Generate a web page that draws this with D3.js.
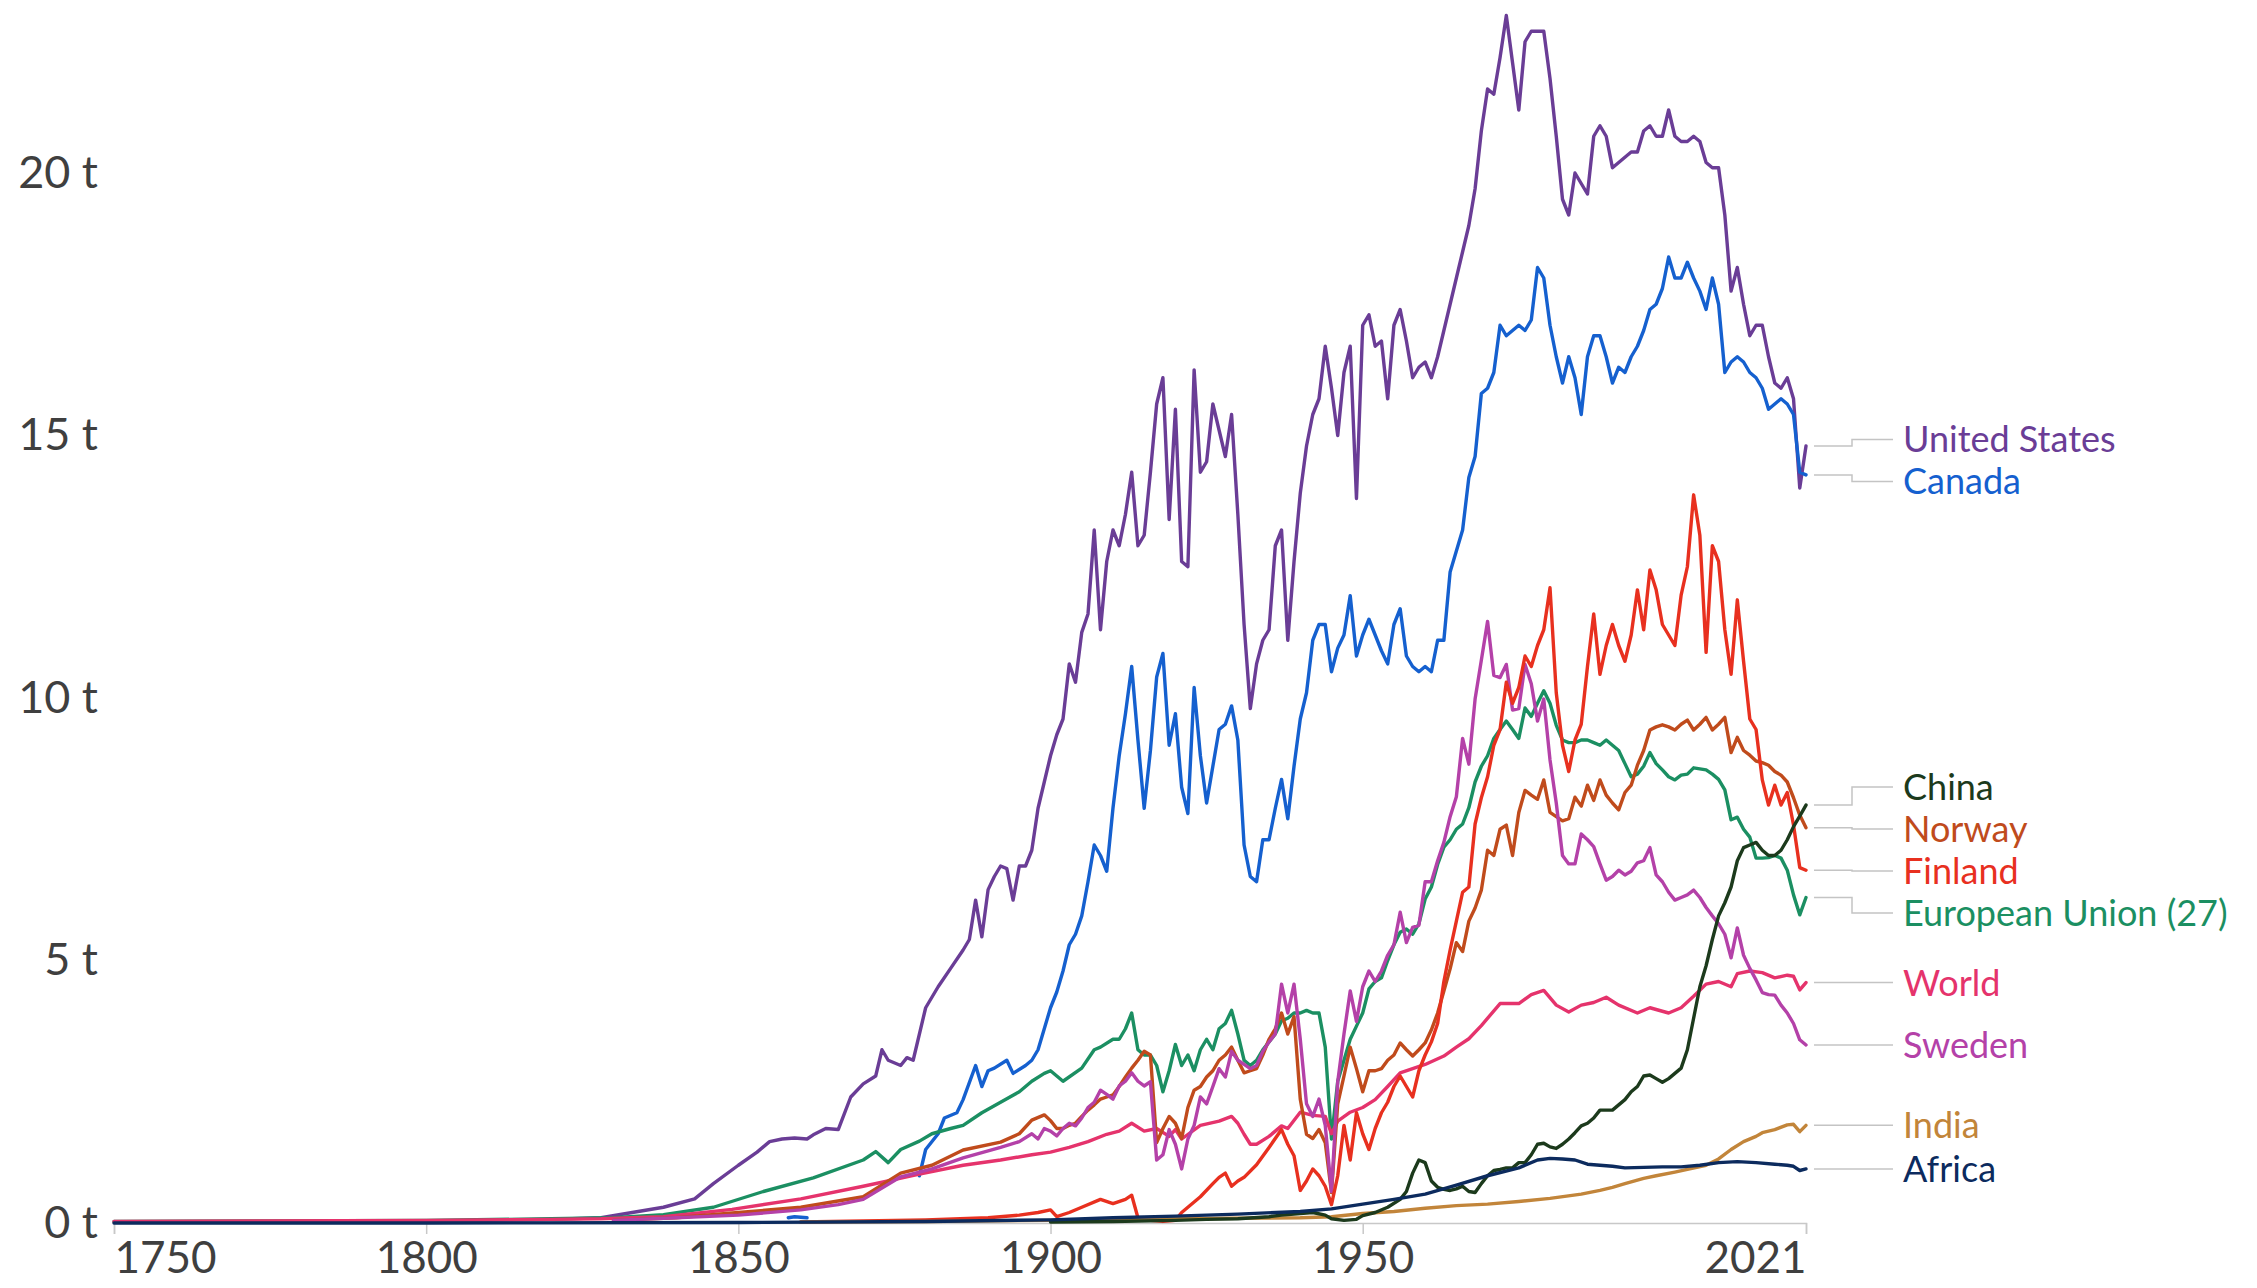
<!DOCTYPE html>
<html>
<head>
<meta charset="utf-8">
<script src="https://cdn.jsdelivr.net/npm/d3@7"></script>
<style>
  html, body { margin: 0; padding: 0; background: #fff; }
  svg { display: block; font-family: Lato, "Noto Sans", sans-serif; }
</style>
</head>
<body>
<script>
// CO2 per capita (tonnes)
const unitedStates = [[1800,0.04],[1810,0.05],[1820,0.07],[1828,0.1],[1833,0.2],[1838,0.3],[1843,0.46],[1846,0.75],[1850,1.1],[1853,1.35],[1855,1.55],[1857,1.6],[1859,1.62],[1861,1.6],[1862,1.68],[1864,1.8],[1866,1.78],[1868,2.4],[1870,2.65],[1872,2.8],[1873,3.3],[1874,3.1],[1876,3.0],[1877,3.15],[1878,3.1],[1880,4.1],[1882,4.5],[1884,4.85],[1886,5.2],[1887,5.4],[1888,6.15],[1889,5.45],[1890,6.35],[1891,6.6],[1892,6.8],[1893,6.75],[1894,6.15],[1895,6.8],[1896,6.8],[1897,7.1],[1898,7.9],[1899,8.4],[1900,8.9],[1901,9.3],[1902,9.6],[1903,10.65],[1904,10.3],[1905,11.25],[1906,11.6],[1907,13.2],[1908,11.3],[1909,12.6],[1910,13.2],[1911,12.9],[1912,13.5],[1913,14.3],[1914,12.9],[1915,13.1],[1916,14.3],[1917,15.6],[1918,16.1],[1919,13.4],[1920,15.5],[1921,12.6],[1922,12.5],[1923,16.25],[1924,14.3],[1925,14.5],[1926,15.6],[1927,15.1],[1928,14.6],[1929,15.4],[1930,13.5],[1931,11.4],[1932,9.8],[1933,10.65],[1934,11.1],[1935,11.3],[1936,12.9],[1937,13.2],[1938,11.1],[1939,12.6],[1940,13.9],[1941,14.8],[1942,15.4],[1943,15.7],[1944,16.7],[1945,15.9],[1946,15.0],[1947,16.2],[1948,16.7],[1949,13.8],[1950,17.1],[1951,17.3],[1952,16.7],[1953,16.8],[1954,15.7],[1955,17.1],[1956,17.4],[1957,16.8],[1958,16.1],[1959,16.3],[1960,16.4],[1961,16.1],[1962,16.5],[1963,17.0],[1964,17.5],[1965,18.0],[1966,18.5],[1967,19.0],[1968,19.7],[1969,20.8],[1970,21.6],[1971,21.5],[1972,22.2],[1973,23.0],[1974,22.1],[1975,21.2],[1976,22.5],[1977,22.7],[1978,22.7],[1979,22.7],[1980,21.8],[1981,20.7],[1982,19.5],[1983,19.2],[1984,20.0],[1985,19.8],[1986,19.6],[1987,20.7],[1988,20.9],[1989,20.7],[1990,20.1],[1991,20.2],[1992,20.3],[1993,20.4],[1994,20.4],[1995,20.8],[1996,20.9],[1997,20.7],[1998,20.7],[1999,21.2],[2000,20.7],[2001,20.6],[2002,20.6],[2003,20.7],[2004,20.6],[2005,20.2],[2006,20.1],[2007,20.1],[2008,19.2],[2009,17.75],[2010,18.2],[2011,17.5],[2012,16.9],[2013,17.1],[2014,17.1],[2015,16.5],[2016,16.0],[2017,15.9],[2018,16.1],[2019,15.7],[2020,14.0],[2021,14.8]];

const canada = [[1858,0.1],[1859,0.12],[1861,0.1],[1862,null],[1879,0.9],[1880,1.4],[1882,1.7],[1883,2.0],[1885,2.1],[1886,2.35],[1888,3.0],[1889,2.6],[1890,2.9],[1891,2.95],[1893,3.1],[1894,2.85],[1896,3.0],[1897,3.1],[1898,3.3],[1899,3.7],[1900,4.1],[1901,4.4],[1902,4.8],[1903,5.3],[1904,5.5],[1905,5.85],[1906,6.5],[1907,7.2],[1908,7.0],[1909,6.7],[1910,7.9],[1911,8.9],[1912,9.7],[1913,10.6],[1914,9.2],[1915,7.9],[1916,9.0],[1917,10.4],[1918,10.85],[1919,9.1],[1920,9.7],[1921,8.3],[1922,7.8],[1923,10.2],[1924,8.9],[1925,8.0],[1926,8.7],[1927,9.4],[1928,9.5],[1929,9.85],[1930,9.2],[1931,7.2],[1932,6.6],[1933,6.5],[1934,7.3],[1935,7.3],[1936,7.9],[1937,8.45],[1938,7.7],[1939,8.7],[1940,9.6],[1941,10.1],[1942,11.1],[1943,11.4],[1944,11.4],[1945,10.5],[1946,10.95],[1947,11.2],[1948,11.95],[1949,10.8],[1950,11.2],[1951,11.5],[1952,11.2],[1953,10.9],[1954,10.65],[1955,11.4],[1956,11.7],[1957,10.8],[1958,10.6],[1959,10.5],[1960,10.6],[1961,10.5],[1962,11.1],[1963,11.1],[1964,12.4],[1965,12.8],[1966,13.2],[1967,14.2],[1968,14.6],[1969,15.8],[1970,15.9],[1971,16.2],[1972,17.1],[1973,16.9],[1974,17.0],[1975,17.1],[1976,17.0],[1977,17.2],[1978,18.2],[1979,18.0],[1980,17.1],[1981,16.5],[1982,16.0],[1983,16.5],[1984,16.1],[1985,15.4],[1986,16.5],[1987,16.9],[1988,16.9],[1989,16.5],[1990,16.0],[1991,16.3],[1992,16.2],[1993,16.5],[1994,16.7],[1995,17.0],[1996,17.4],[1997,17.5],[1998,17.8],[1999,18.4],[2000,18.0],[2001,18.0],[2002,18.3],[2003,18.0],[2004,17.75],[2005,17.4],[2006,18.0],[2007,17.5],[2008,16.2],[2009,16.4],[2010,16.5],[2011,16.4],[2012,16.2],[2013,16.1],[2014,15.9],[2015,15.5],[2016,15.6],[2017,15.7],[2018,15.6],[2019,15.4],[2020,14.3],[2021,14.25]];

const europeanUnion = [[1750,0.03],[1775,0.04],[1800,0.05],[1820,0.08],[1830,0.1],[1838,0.16],[1846,0.3],[1854,0.6],[1862,0.86],[1870,1.2],[1872,1.36],[1874,1.15],[1876,1.4],[1879,1.56],[1881,1.7],[1884,1.8],[1886,1.86],[1889,2.1],[1892,2.3],[1895,2.5],[1897,2.7],[1899,2.85],[1900,2.9],[1901,2.8],[1902,2.7],[1905,2.95],[1907,3.3],[1908,3.35],[1910,3.5],[1911,3.5],[1912,3.7],[1913,4.0],[1914,3.3],[1915,3.2],[1916,3.2],[1917,3.0],[1918,2.5],[1919,2.9],[1920,3.4],[1921,3.0],[1922,3.2],[1923,2.9],[1924,3.3],[1925,3.5],[1926,3.3],[1927,3.7],[1928,3.8],[1929,4.05],[1930,3.6],[1931,3.1],[1932,3.0],[1933,3.1],[1934,3.3],[1935,3.45],[1936,3.6],[1937,3.85],[1938,3.9],[1939,4.0],[1940,4.0],[1941,4.05],[1942,4.0],[1943,4.0],[1944,3.35],[1945,1.6],[1946,2.7],[1947,3.1],[1948,3.5],[1949,3.75],[1950,4.0],[1951,4.46],[1952,4.6],[1953,4.67],[1954,5.0],[1955,5.3],[1956,5.54],[1957,5.6],[1958,5.5],[1959,5.7],[1960,6.17],[1961,6.4],[1962,6.83],[1963,7.16],[1964,7.3],[1965,7.5],[1966,7.6],[1967,7.91],[1968,8.4],[1969,8.7],[1970,8.9],[1971,9.23],[1972,9.4],[1973,9.56],[1974,9.4],[1975,9.23],[1976,9.81],[1977,9.65],[1978,9.9],[1979,10.14],[1980,9.9],[1981,9.48],[1982,9.2],[1983,9.15],[1984,9.15],[1985,9.2],[1986,9.2],[1987,9.15],[1988,9.1],[1989,9.2],[1990,9.1],[1991,9.0],[1992,8.75],[1993,8.5],[1994,8.55],[1995,8.7],[1996,8.96],[1997,8.75],[1998,8.63],[1999,8.5],[2000,8.44],[2001,8.53],[2002,8.55],[2003,8.67],[2004,8.65],[2005,8.63],[2006,8.55],[2007,8.45],[2008,8.25],[2009,7.68],[2010,7.73],[2011,7.5],[2012,7.35],[2013,6.95],[2014,6.95],[2015,6.96],[2016,7.0],[2017,6.95],[2018,6.72],[2019,6.25],[2020,5.87],[2021,6.2]];

const world = [[1750,0.03],[1800,0.05],[1820,0.07],[1828,0.08],[1838,0.12],[1849,0.26],[1860,0.46],[1870,0.7],[1879,0.93],[1886,1.1],[1892,1.2],[1897,1.3],[1900,1.35],[1903,1.44],[1906,1.55],[1909,1.69],[1911,1.75],[1913,1.9],[1915,1.75],[1917,1.8],[1919,1.65],[1920,1.78],[1921,1.6],[1924,1.86],[1927,1.94],[1929,2.03],[1930,1.9],[1931,1.69],[1932,1.5],[1933,1.5],[1935,1.65],[1937,1.85],[1938,1.8],[1940,2.11],[1942,2.05],[1944,2.03],[1945,1.7],[1946,1.94],[1948,2.11],[1950,2.2],[1952,2.35],[1954,2.6],[1956,2.86],[1960,3.02],[1963,3.18],[1965,3.35],[1967,3.51],[1969,3.76],[1972,4.18],[1975,4.18],[1977,4.35],[1979,4.43],[1981,4.15],[1983,4.02],[1985,4.15],[1987,4.2],[1989,4.3],[1991,4.15],[1994,4.0],[1996,4.1],[1999,4.0],[2001,4.1],[2003,4.32],[2005,4.55],[2007,4.6],[2009,4.5],[2010,4.75],[2012,4.8],[2014,4.77],[2016,4.67],[2018,4.72],[2019,4.7],[2020,4.44],[2021,4.58]];

const norway = [[1830,0.05],[1840,0.1],[1850,0.2],[1860,0.3],[1870,0.5],[1876,0.95],[1881,1.1],[1886,1.39],[1892,1.54],[1895,1.7],[1897,1.96],[1899,2.06],[1900,1.95],[1901,1.8],[1902,1.8],[1903,1.86],[1904,1.9],[1905,2.03],[1906,2.15],[1907,2.25],[1908,2.36],[1909,2.4],[1910,2.44],[1911,2.6],[1912,2.78],[1913,2.95],[1914,3.1],[1915,3.27],[1916,3.2],[1917,1.53],[1918,1.8],[1919,2.03],[1920,1.9],[1921,1.61],[1922,2.2],[1923,2.53],[1924,2.6],[1925,2.78],[1926,2.9],[1927,3.1],[1928,3.2],[1929,3.35],[1930,3.1],[1931,2.86],[1932,2.9],[1933,2.94],[1934,3.2],[1935,3.5],[1936,3.7],[1937,4.0],[1938,3.6],[1939,3.93],[1940,2.36],[1941,1.69],[1942,1.61],[1943,1.78],[1944,1.53],[1945,0.58],[1946,2.27],[1947,2.8],[1948,3.35],[1949,2.94],[1950,2.5],[1951,2.9],[1952,2.9],[1953,2.94],[1954,3.1],[1955,3.2],[1956,3.43],[1957,3.3],[1958,3.18],[1959,3.3],[1960,3.43],[1961,3.68],[1962,4.0],[1963,4.42],[1964,4.84],[1965,5.34],[1966,5.17],[1967,5.75],[1968,6.0],[1969,6.34],[1970,7.1],[1971,7.0],[1972,7.5],[1973,7.58],[1974,7.0],[1975,7.82],[1976,8.24],[1977,8.15],[1978,8.07],[1979,8.44],[1980,7.82],[1981,7.74],[1982,7.66],[1983,7.7],[1984,8.11],[1985,7.94],[1986,8.34],[1987,8.05],[1988,8.44],[1989,8.15],[1990,8.0],[1991,7.87],[1992,8.2],[1993,8.34],[1994,8.72],[1995,9.0],[1996,9.39],[1997,9.45],[1998,9.49],[1999,9.45],[2000,9.39],[2001,9.5],[2002,9.58],[2003,9.39],[2004,9.5],[2005,9.63],[2006,9.39],[2007,9.5],[2008,9.63],[2009,8.96],[2010,9.25],[2011,9.0],[2012,8.91],[2013,8.8],[2014,8.77],[2015,8.72],[2016,8.6],[2017,8.53],[2018,8.4],[2019,8.1],[2020,7.77],[2021,7.53]];

const sweden = [[1830,0.05],[1840,0.1],[1850,0.15],[1860,0.25],[1866,0.35],[1870,0.45],[1876,0.88],[1881,1.03],[1886,1.24],[1892,1.44],[1895,1.55],[1897,1.7],[1898,1.6],[1899,1.8],[1900,1.75],[1901,1.66],[1902,1.8],[1903,1.9],[1904,1.85],[1905,2.0],[1906,2.2],[1907,2.3],[1908,2.53],[1909,2.45],[1910,2.36],[1911,2.61],[1912,2.7],[1913,2.86],[1914,2.7],[1915,2.61],[1916,2.69],[1917,1.2],[1918,1.3],[1919,1.78],[1920,1.5],[1921,1.03],[1922,1.6],[1923,1.86],[1924,2.4],[1925,2.27],[1926,2.6],[1927,2.94],[1928,2.78],[1929,3.27],[1930,3.1],[1931,3.02],[1932,2.94],[1933,3.0],[1934,3.27],[1935,3.45],[1936,3.6],[1937,4.55],[1938,4.0],[1939,4.55],[1940,3.5],[1941,2.27],[1942,2.03],[1943,2.36],[1944,1.86],[1945,0.6],[1946,2.69],[1947,3.6],[1948,4.42],[1949,3.84],[1950,4.5],[1951,4.8],[1952,4.6],[1953,4.8],[1954,5.1],[1955,5.3],[1956,5.92],[1957,5.34],[1958,5.63],[1959,5.67],[1960,6.5],[1961,6.5],[1962,6.9],[1963,7.25],[1964,7.74],[1965,8.12],[1966,9.23],[1967,8.74],[1968,9.98],[1969,10.72],[1970,11.46],[1971,10.43],[1972,10.39],[1973,10.64],[1974,9.77],[1975,9.8],[1976,10.64],[1977,10.27],[1978,9.56],[1979,9.98],[1980,8.82],[1981,8.0],[1982,7.0],[1983,6.84],[1984,6.84],[1985,7.41],[1986,7.3],[1987,7.17],[1988,6.84],[1989,6.53],[1990,6.6],[1991,6.72],[1992,6.63],[1993,6.7],[1994,6.86],[1995,6.9],[1996,7.15],[1997,6.63],[1998,6.5],[1999,6.3],[2000,6.15],[2001,6.2],[2002,6.25],[2003,6.34],[2004,6.2],[2005,6.01],[2006,5.85],[2007,5.7],[2008,5.5],[2009,5.05],[2010,5.62],[2011,5.1],[2012,4.85],[2013,4.63],[2014,4.39],[2015,4.35],[2016,4.34],[2017,4.15],[2018,4.0],[2019,3.8],[2020,3.49],[2021,3.39]];

const finland = [[1860,0.02],[1870,0.04],[1880,0.06],[1890,0.1],[1895,0.15],[1898,0.2],[1900,0.25],[1901,0.12],[1903,0.2],[1905,0.3],[1908,0.45],[1910,0.37],[1912,0.45],[1913,0.53],[1914,0.1],[1916,0.05],[1918,0.03],[1920,0.05],[1921,0.2],[1922,0.3],[1924,0.5],[1926,0.75],[1927,0.87],[1928,0.95],[1929,0.7],[1930,0.8],[1931,0.87],[1933,1.11],[1935,1.44],[1937,1.78],[1938,1.5],[1939,1.28],[1940,0.62],[1941,0.8],[1942,1.03],[1943,0.9],[1944,0.7],[1945,0.35],[1946,0.9],[1947,1.86],[1948,1.2],[1949,2.1],[1950,1.7],[1951,1.4],[1952,1.8],[1953,2.1],[1954,2.3],[1955,2.6],[1956,2.8],[1957,2.6],[1958,2.4],[1959,2.9],[1960,3.2],[1961,3.45],[1962,3.8],[1963,4.6],[1964,5.2],[1965,5.75],[1966,6.3],[1967,6.4],[1968,7.6],[1969,8.1],[1970,8.5],[1971,9.1],[1972,9.4],[1973,10.3],[1974,9.9],[1975,10.2],[1976,10.8],[1977,10.6],[1978,11.0],[1979,11.3],[1980,12.1],[1981,10.1],[1982,9.1],[1983,8.6],[1984,9.2],[1985,9.5],[1986,10.6],[1987,11.6],[1988,10.45],[1989,11.0],[1990,11.4],[1991,11.0],[1992,10.7],[1993,11.2],[1994,12.06],[1995,11.3],[1996,12.44],[1997,12.06],[1998,11.4],[1999,11.2],[2000,11.0],[2001,11.96],[2002,12.5],[2003,13.87],[2004,13.1],[2005,10.87],[2006,12.9],[2007,12.6],[2008,11.3],[2009,10.45],[2010,11.87],[2011,10.7],[2012,9.6],[2013,9.4],[2014,8.44],[2015,7.96],[2016,8.34],[2017,7.96],[2018,8.2],[2019,7.58],[2020,6.77],[2021,6.72]];

const india = [[1860,0.02],[1880,0.03],[1900,0.05],[1920,0.08],[1930,0.09],[1940,0.1],[1945,0.12],[1950,0.18],[1955,0.22],[1960,0.28],[1965,0.33],[1970,0.36],[1975,0.41],[1980,0.47],[1985,0.55],[1988,0.62],[1990,0.68],[1992,0.75],[1995,0.85],[1997,0.9],[2000,0.97],[2002,1.02],[2005,1.1],[2007,1.22],[2009,1.4],[2011,1.55],[2013,1.65],[2014,1.72],[2016,1.78],[2018,1.87],[2019,1.88],[2020,1.74],[2021,1.86]];

const china = [[1900,0.02],[1910,0.03],[1920,0.05],[1925,0.07],[1930,0.08],[1935,0.12],[1937,0.15],[1940,0.18],[1942,0.2],[1944,0.15],[1945,0.08],[1947,0.05],[1949,0.07],[1950,0.14],[1952,0.2],[1954,0.3],[1956,0.45],[1957,0.6],[1958,0.95],[1959,1.2],[1960,1.15],[1961,0.8],[1962,0.68],[1963,0.64],[1964,0.62],[1965,0.65],[1966,0.7],[1967,0.6],[1968,0.58],[1969,0.75],[1970,0.9],[1971,1.0],[1972,1.02],[1973,1.05],[1974,1.05],[1975,1.15],[1976,1.15],[1977,1.3],[1978,1.5],[1979,1.52],[1980,1.45],[1981,1.42],[1982,1.5],[1983,1.6],[1984,1.72],[1985,1.85],[1986,1.9],[1987,2.0],[1988,2.15],[1989,2.15],[1990,2.15],[1991,2.25],[1992,2.35],[1993,2.5],[1994,2.6],[1995,2.8],[1996,2.82],[1997,2.75],[1998,2.68],[1999,2.75],[2000,2.85],[2001,2.95],[2002,3.3],[2003,3.9],[2004,4.5],[2005,4.9],[2006,5.4],[2007,5.85],[2008,6.1],[2009,6.4],[2010,6.9],[2011,7.15],[2012,7.2],[2013,7.25],[2014,7.1],[2015,7.0],[2016,7.0],[2017,7.1],[2018,7.3],[2019,7.55],[2020,7.75],[2021,7.96]];

const africa = [[1750,0],[1800,0],[1850,0.01],[1880,0.03],[1900,0.06],[1910,0.1],[1920,0.13],[1930,0.17],[1940,0.22],[1945,0.27],[1950,0.36],[1955,0.45],[1960,0.55],[1965,0.72],[1970,0.9],[1975,1.05],[1978,1.2],[1980,1.23],[1982,1.22],[1984,1.2],[1986,1.12],[1988,1.1],[1990,1.08],[1992,1.05],[1995,1.06],[1998,1.07],[2001,1.07],[2004,1.1],[2007,1.15],[2010,1.17],[2013,1.15],[2016,1.12],[2018,1.1],[2019,1.08],[2020,1.0],[2021,1.03]];

const seriesNames = ["United States", "Canada", "European Union (27)", "World", "Norway", "Sweden", "Finland", "India", "China", "Africa"];
const seriesData = [unitedStates, canada, europeanUnion, world, norway, sweden, finland, india, china, africa];
const seriesColors = ["#6a3d96", "#1560cf", "#1b8f62", "#e5336c", "#c04b1c", "#b441a8", "#e8301f", "#c2853a", "#1c3a1c", "#0c2b5e"];

const xTicks = [1750, 1800, 1850, 1900, 1950, 2021];
const yTicks = [0, 5, 10, 15, 20];

const width = 2257, height = 1288;

const svg = d3.select("body").append("svg")
    .attr("width", width)
    .attr("height", height);

svg.append("rect").attr("width", width).attr("height", height).attr("fill", "#fff");

const x = d3.scaleLinear().domain([1750, 2021]).range([114, 1806]);
const y = d3.scaleLinear().domain([0, 20]).range([1223, 173]);

// x axis
const xAxis = svg.append("g")
    .attr("transform", `translate(0,${y(0)})`)
    .call(d3.axisBottom(x).tickValues(xTicks).tickFormat(d3.format("d")).tickSize(11));
xAxis.select(".domain").attr("stroke", "#c8c8c8").attr("stroke-width", 1.5);
xAxis.selectAll(".tick line").attr("stroke", "#c8c8c8").attr("stroke-width", 1.5);
xAxis.selectAll(".tick text")
    .attr("font-family", "Lato, sans-serif")
    .attr("font-size", 44)
    .attr("fill", "#3f3f3f")
    .attr("y", 19)
    .attr("text-anchor", (d, i) => i === 0 ? "start" : i === xTicks.length - 1 ? "end" : "middle");

// y axis labels only
const yAxis = svg.append("g")
    .attr("transform", "translate(98,0)")
    .call(d3.axisLeft(y).tickValues(yTicks).tickFormat(d => d + " t").tickSize(0).tickPadding(0));
yAxis.select(".domain").remove();
yAxis.selectAll(".tick text")
    .attr("font-family", "Lato, sans-serif")
    .attr("font-size", 45)
    .attr("fill", "#3f3f3f");

// lines
const line = d3.line()
    .defined(d => d[1] != null)
    .x(d => x(d[0]))
    .y(d => y(d[1]));

svg.append("g")
    .selectAll("path")
    .data(seriesData)
    .enter()
    .append("path")
    .attr("d", d => line(d))
    .attr("fill", "none")
    .attr("stroke", (d, i) => seriesColors[i])
    .attr("stroke-width", 3.4)
    .attr("stroke-linejoin", "round")
    .attr("stroke-linecap", "round");

// end labels, spread so they don't overlap
const gap = 42;
const labels = seriesNames.map((name, i) => {
    const last = seriesData[i][seriesData[i].length - 1];
    return { name: name, color: seriesColors[i], target: y(last[1]), endY: y(last[1]) };
}).sort((a, b) => a.target - b.target);

let groups = labels.map(l => ({ items: [l], top: l.target }));
let changed = true;
while (changed) {
    changed = false;
    for (let i = 1; i < groups.length; i++) {
        const prev = groups[i - 1], cur = groups[i];
        const prevBottom = prev.top + (prev.items.length - 1) * gap;
        if (cur.top - prevBottom < gap) {
            const merged = prev.items.concat(cur.items);
            const mean = d3.mean(merged, d => d.target);
            groups.splice(i - 1, 2, { items: merged, top: mean - (merged.length - 1) * gap / 2 });
            changed = true;
            break;
        }
    }
}
groups.forEach(g => g.items.forEach((it, k) => { it.y = g.top + k * gap; }));

const labelX = 1903;
const xEnd = x(2021);

svg.append("g")
    .selectAll("path")
    .data(labels)
    .enter()
    .append("path")
    .attr("d", d => `M${xEnd + 8},${d.endY}H1852V${d.y}H${labelX - 10}`)
    .attr("fill", "none")
    .attr("stroke", "#c4c4c4")
    .attr("stroke-width", 1.5);

svg.append("g")
    .selectAll("text")
    .data(labels)
    .enter()
    .append("text")
    .attr("x", labelX)
    .attr("y", d => d.y)
    .attr("dy", "0.36em")
    .attr("font-family", "Lato, sans-serif")
    .attr("font-size", 36)
    .attr("fill", d => d.color)
    .text(d => d.name);
</script>
</body>
</html>
